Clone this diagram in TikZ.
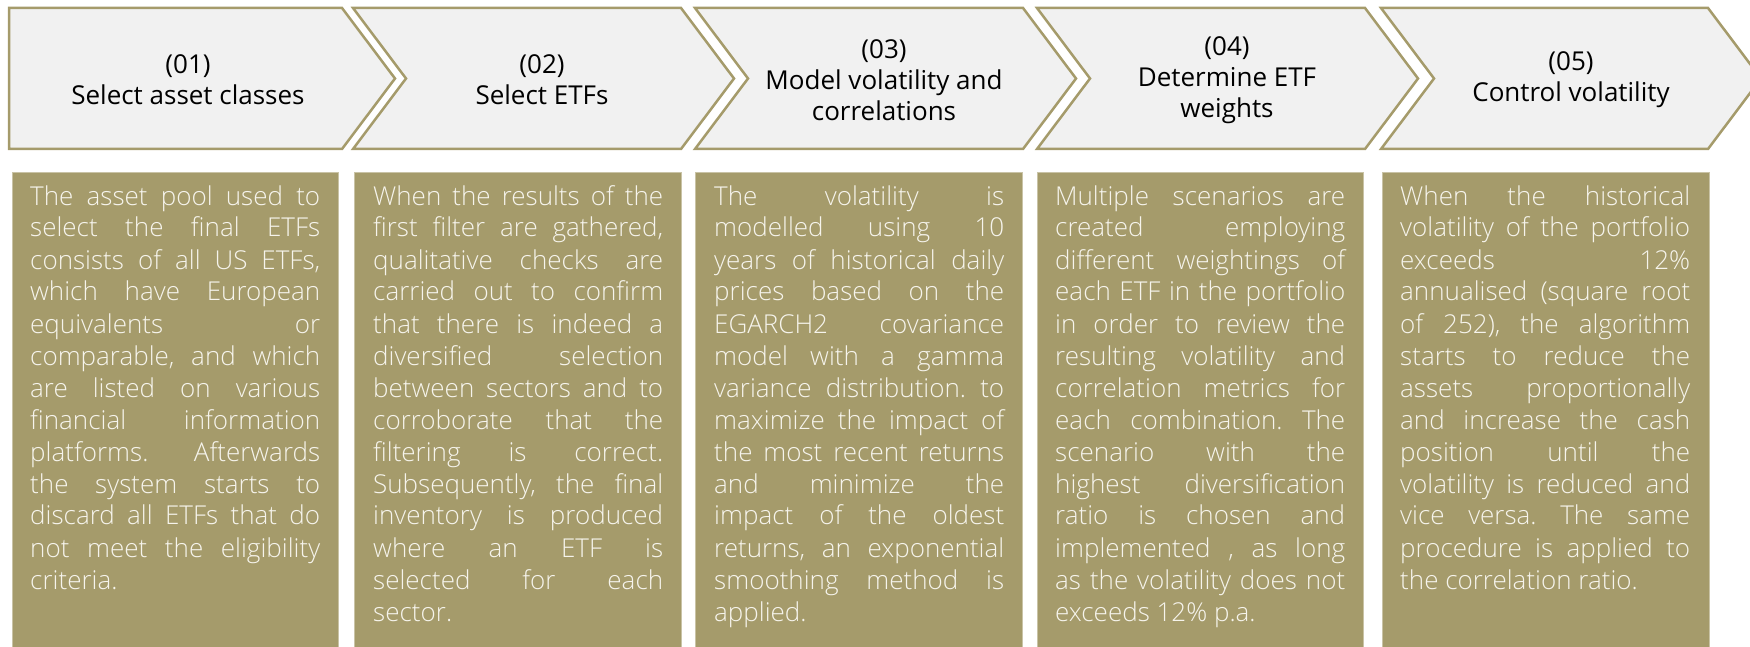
\documentclass[tikz,border=0pt]{standalone}
\usepackage{fontspec}
\setmainfont{Open Sans}
\newfontfamily\headfont{Open Sans}
\newfontfamily\bodyfont{Open Sans Light}
\frenchspacing
\definecolor{olive}{RGB}{165,155,107}
\definecolor{chevfill}{RGB}{241,241,241}
\definecolor{bodytext}{RGB}{246,244,236}
\newcommand\jl[1]{\hbox to \linewidth{#1}}
\newcommand\lastl[1]{\hbox{#1}}
\newcommand\desctext[1]{\parbox[t]{290pt}{\bodyfont\fontsize{26}{32}\selectfont\frenchspacing\hbadness=10000 #1}}
\begin{document}
\begin{tikzpicture}[x=1pt,y=-1pt,
  chev/.style={draw=olive,line width=2.5pt,fill=chevfill,line join=miter},
  descbox/.style={fill=olive,draw=olive!60!white,line width=0.8pt},
  headtxt/.style={align=center,inner sep=0pt,font=\headfont\fontsize{26}{31}\selectfont,text=black},
  desctxt/.style={anchor=base west,inner sep=0pt,text=bodytext}]
\useasboundingbox (0,0) rectangle (1750,647);
% chevrons
\draw[chev] (9,8) -- (342,8) -- (395,78.5) -- (342,149) -- (9,149) -- cycle;
\draw[chev] (353,8) -- (681,8) -- (734,78.5) -- (681,149) -- (353,149) -- (406,78.5) -- cycle;
\draw[chev] (695,8) -- (1023,8) -- (1076,78.5) -- (1023,149) -- (695,149) -- (748,78.5) -- cycle;
\draw[chev] (1037,8) -- (1365,8) -- (1418,78.5) -- (1365,149) -- (1037,149) -- (1090,78.5) -- cycle;
\draw[chev] (1381,8) -- (1708,8) -- (1761,78.5) -- (1708,149) -- (1381,149) -- (1434,78.5) -- cycle;
% headers
\node[headtxt] (h1) at (188,80) {(01)\\Select asset classes};
\node[headtxt] (h2) at (542,80) {(02)\\Select ETFs};
\node[headtxt] (h3) at (884,80) {(03)\\Model volatility and\\correlations};
\node[headtxt] (h4) at (1227,80) {(04)\\Determine ETF\\weights};
\node[headtxt] (h5) at (1571,80) {(05)\\Control volatility};
% boxes
\draw[descbox] (12,172) rectangle (338,660);
\draw[descbox] (354,172) rectangle (681,660);
\draw[descbox] (695,172) rectangle (1022,660);
\draw[descbox] (1037,172) rectangle (1363,660);
\draw[descbox] (1382,172) rectangle (1709,660);
% texts
\node[desctxt] (t1) at (30,205) {\desctext{%
\jl{The asset pool used to}
\jl{select the final ETFs}
\jl{consists of all US ETFs,}
\jl{which have European}
\jl{equivalents or}
\jl{comparable, and which}
\jl{are listed on various}
\jl{financial information}
\jl{platforms. Afterwards}
\jl{the system starts to}
\jl{discard all ETFs that do}
\jl{not meet the eligibility}
\lastl{criteria.}}};
\node[desctxt] (t2) at (373,205) {\desctext{%
\jl{When the results of the}
\jl{first filter are gathered,}
\jl{qualitative checks are}
\jl{carried out to confirm}
\jl{that there is indeed a}
\jl{diversified selection}
\jl{between sectors and to}
\jl{corroborate that the}
\jl{filtering is correct.}
\jl{Subsequently, the final}
\jl{inventory is produced}
\jl{where an ETF is}
\jl{selected for each}
\lastl{sector.}}};
\node[desctxt] (t3) at (714,205) {\desctext{%
\jl{The volatility is}
\jl{modelled using 10}
\jl{years of historical daily}
\jl{prices based on the}
\jl{EGARCH2 covariance}
\jl{model with a gamma}
\jl{variance distribution. to}
\jl{maximize the impact of}
\jl{the most recent returns}
\jl{and minimize the}
\jl{impact of the oldest}
\jl{returns, an exponential}
\jl{smoothing method is}
\lastl{applied.}}};
\node[desctxt] (t4) at (1055,205) {\desctext{%
\jl{Multiple scenarios are}
\jl{created employing}
\jl{different weightings of}
\jl{each ETF in the portfolio}
\jl{in order to review the}
\jl{resulting volatility and}
\jl{correlation metrics for}
\jl{each combination. The}
\jl{scenario with the}
\jl{highest diversification}
\jl{ratio is chosen and}
\jl{implemented , as long}
\jl{as the volatility does not}
\lastl{exceeds 12\% p.a.}}};
\node[desctxt] (t5) at (1400,205) {\desctext{%
\jl{When the historical}
\jl{volatility of the portfolio}
\jl{exceeds 12\%}
\jl{annualised (square root}
\jl{of 252), the algorithm}
\jl{starts to reduce the}
\jl{assets proportionally}
\jl{and increase the cash}
\jl{position until the}
\jl{volatility is reduced and}
\jl{vice versa. The same}
\jl{procedure is applied to}
\lastl{the correlation ratio.}}};
\end{tikzpicture}
\end{document}
